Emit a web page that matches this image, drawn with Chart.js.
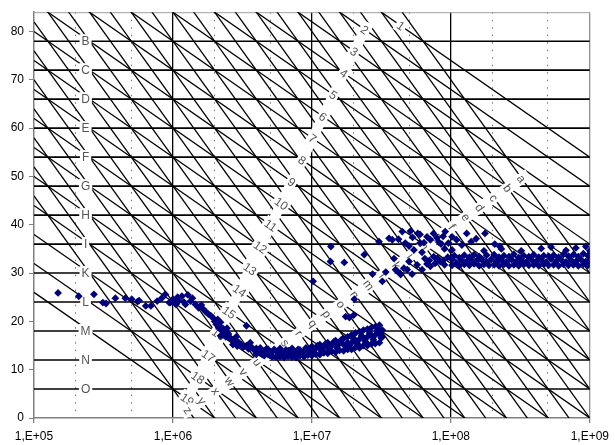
<!DOCTYPE html>
<html>
<head>
<meta charset="utf-8">
<script src="https://cdn.jsdelivr.net/npm/chart.js@4.4.0/dist/chart.umd.min.js"></script>
<style>
  html, body { margin: 0; padding: 0; background: #fff; }
  #wrap { width: 615px; height: 445px; }
</style>
</head>
<body>
<div id="wrap"><canvas id="chart" width="615" height="445"></canvas></div>
<script>
// Nomograma – rectas de referencia y puntos medidos
// -------------------------------------------------------------

// Ejes
const xTicks = [1e5, 2e5, 5e5, 1e6, 2e6, 5e6, 1e7, 2e7, 5e7, 1e8, 2e8, 5e8, 1e9];
const yTicks = [0, 10, 20, 30, 40, 50, 60, 70, 80];

// Líneas horizontales y su letra
const nivelesY = [78, 72, 66, 60, 54, 48, 42, 36, 30, 24, 18, 12, 6];
const nivelesTxt = ['B', 'C', 'D', 'E', 'F', 'G', 'H', 'I', 'K', 'L', 'M', 'N', 'O'];

// Rectas de -20 por década: valor en 1E+06 y su número
const rectas20 = [114, 108, 102, 96, 90, 84, 78, 72, 66, 60, 54, 48, 42, 36, 30, 24, 18, 12, 6];
const rectas20Txt = ['1', '2', '3', '4', '5', '6', '7', '8', '9', '10', '11', '12', '13', '14', '15', '16', '17', '18', '19'];

// Rectas de -40 por década: valor en 1E+06 y su letra
const rectas40 = [150, 144, 138, 132, 126, 120, 114, 108, 102, 96, 90, 84, 78, 72, 66, 60, 54, 48, 42, 36, 30, 24, 18, 12, 6];
const rectas40Txt = ['a', 'b', 'c', 'd', 'e', 'f', 'g', 'h', 'i', 'k', 'l', 'm', 'n', 'o', 'p', 'q', 'r', 's', 't', 'u', 'v', 'w', 'x', 'y', 'z'];

// Puntos medidos [x, y]
const tramoPlano = [
  [1.49e5, 25.9], [2.1e5, 25.2], [2.7e5, 25.6], [3.13e5, 23.9], [3.3e5, 23.7], [3.85e5, 24.8],
  [4.54e5, 24.8], [5.05e5, 24.6], [5.56e5, 24.1], [5.7e5, 24.3], [6.37e5, 23.2], [6.93e5, 23.2],
  [7.7e5, 24.2], [8.3e5, 24.8], [8.8e5, 25.6], [9.4e5, 23.9], [9.6e5, 23.9], [1.0e6, 24.6],
  [1.02e6, 24.1], [1.05e6, 23.5], [1.08e6, 25.0], [1.1e6, 24.2], [1.16e6, 25.2], [1.2e6, 24.0],
  [1.23e6, 23.5], [1.28e6, 25.5], [1.34e6, 24.2], [1.38e6, 24.8], [1.45e6, 23.5]
];
const tramoCaida = [
  [1.53e6, 22.8], [1.6e6, 23.4], [1.66e6, 22.5], [1.72e6, 22.0], [1.8e6, 21.5], [1.87e6, 21.2],
  [1.96e6, 20.6], [2.0e6, 20.0], [2.05e6, 19.4], [2.1e6, 20.4], [2.13e6, 18.7], [2.15e6, 19.2],
  [2.2e6, 19.8], [2.2e6, 17.0], [2.24e6, 18.1], [2.3e6, 17.2], [2.3e6, 18.5], [2.39e6, 17.7],
  [2.4e6, 16.8], [2.45e6, 18.6], [2.51e6, 17.4], [2.58e6, 16.6], [2.64e6, 16.3], [2.75e6, 15.9],
  [2.85e6, 16.8], [2.96e6, 15.7], [3.1e6, 15.2], [3.2e6, 14.6], [3.38e6, 15.0], [3.38e6, 19.1],
  [3.5e6, 14.3], [3.6e6, 15.6], [3.7e6, 14.6], [3.85e6, 14.0], [2.7e6, 15.2], [2.9e6, 14.9]
];
const tramoValle = [
  [3.98e6, 13.2], [3.98e6, 14.4], [4.1e6, 13.8], [4.25e6, 13.4], [4.25e6, 14.5], [4.4e6, 13.1],
  [4.54e6, 12.9], [4.54e6, 13.8], [4.7e6, 14.3], [4.85e6, 13.1], [4.85e6, 14.2], [5.0e6, 12.9],
  [5.18e6, 12.7], [5.18e6, 13.7], [5.35e6, 14.2], [5.53e6, 12.6], [5.53e6, 13.8], [5.7e6, 13.1],
  [5.9e6, 12.7], [5.9e6, 13.6], [5.9e6, 14.4], [6.1e6, 13.2], [6.31e6, 12.5], [6.31e6, 13.6],
  [6.5e6, 14.1], [6.74e6, 12.8], [6.74e6, 13.9], [6.95e6, 13.2], [7.2e6, 12.6], [7.2e6, 13.7],
  [7.2e6, 14.4], [7.45e6, 13.1], [7.69e6, 12.5], [7.69e6, 13.6], [7.95e6, 14.2], [8.2e6, 12.9],
  [8.2e6, 14.1], [8.5e6, 13.3], [8.77e6, 12.7], [8.77e6, 13.8], [9.05e6, 14.5], [9.36e6, 13.0],
  [9.36e6, 14.3], [9.7e6, 13.5], [1.0e7, 12.9], [1.0e7, 14.0], [1.0e7, 14.8], [1.03e7, 13.4],
  [1.07e7, 13.2], [1.07e7, 14.5], [1.1e7, 15.0], [1.14e7, 13.1], [1.14e7, 14.3], [1.14e7, 15.2],
  [1.18e7, 13.8], [1.22e7, 13.5], [1.22e7, 14.8], [1.26e7, 15.4], [1.3e7, 13.4], [1.3e7, 14.6],
  [1.3e7, 15.6], [1.35e7, 14.1], [1.39e7, 13.8], [1.39e7, 15.1], [1.44e7, 15.8], [1.48e7, 13.6],
  [1.48e7, 14.9], [1.48e7, 16.0], [1.53e7, 14.4], [1.58e7, 14.0], [1.58e7, 15.4], [1.63e7, 16.2],
  [1.69e7, 13.9], [1.69e7, 15.2], [1.69e7, 16.5], [1.75e7, 14.8], [1.81e7, 14.2], [1.81e7, 15.6],
  [1.81e7, 16.8], [1.87e7, 15.1], [1.93e7, 14.2], [1.93e7, 15.6], [1.93e7, 17.2], [2.0e7, 16.4],
  [2.06e7, 14.6], [2.06e7, 16.0], [2.06e7, 17.6], [2.13e7, 15.3], [2.2e7, 14.5], [2.2e7, 16.3],
  [2.2e7, 17.9], [2.28e7, 17.0], [2.35e7, 15.0], [2.35e7, 16.5], [2.35e7, 18.2], [2.43e7, 15.8],
  [2.51e7, 15.0], [2.51e7, 16.8], [2.51e7, 18.4], [2.6e7, 17.6], [2.68e7, 15.3], [2.68e7, 17.0],
  [2.68e7, 18.7], [2.77e7, 16.2], [2.86e7, 15.4], [2.86e7, 17.2], [2.86e7, 18.9], [2.96e7, 18.0],
  [3.06e7, 15.6], [3.06e7, 17.4], [3.06e7, 19.2], [3.15e7, 16.6], [3.21e7, 16.8], [3.21e7, 18.2]
];
const tramoDisperso = [
  [1.02e7, 28.3], [1.36e7, 32.4], [1.37e7, 35.5], [1.71e7, 32.2], [1.75e7, 21.0], [1.86e7, 20.8],
  [2.0e7, 21.3], [2.02e7, 24.6], [2.38e7, 33.8], [2.73e7, 29.8], [3.21e7, 28.3], [3.04e7, 36.5],
  [3.4e7, 30.2], [3.59e7, 37.2], [3.79e7, 36.9], [4.0e7, 30.7], [4.11e7, 30.4], [4.35e7, 29.7],
  [4.59e7, 31.0], [4.85e7, 30.7], [5.26e7, 29.8], [5.72e7, 31.7], [6.21e7, 30.7], [6.74e7, 31.9],
  [7.12e7, 31.4], [8.39e7, 32.4], [7.52e7, 33.4], [5.42e7, 34.8], [1.02e8, 34.8],
  [4.47e7, 38.6], [5.12e7, 38.7], [5.78e7, 38.2], [6.74e7, 37.5], [7.12e7, 36.9], [7.94e7, 37.3],
  [9.1e7, 38.6], [1.02e8, 37.5], [1.1e8, 36.9], [1.3e8, 38.2], [1.52e8, 37.1], [1.76e8, 38.2],
  [2.07e8, 36.0], [2.25e8, 35.5], [4.2e7, 37.0], [4.7e7, 36.2], [5.3e7, 37.4], [6.0e7, 38.0],
  [6.4e7, 36.3], [7.5e7, 38.2], [8.2e7, 36.4], [8.8e7, 37.6], [9.6e7, 36.2], [6.0e7, 36.2],
  [8.5e7, 36.0], [1.2e8, 35.8], [5.0e7, 35.6], [3.9e7, 33.0], [6.2e7, 34.3], [9.0e7, 35.0],
  [1.4e8, 36.5], [8.0e7, 33.1], [8.8e7, 32.6], [9.5e7, 33.3], [9.0e7, 31.7], [7.7e7, 32.0],
  [5.0e7, 32.4], [6.5e7, 33.0], [7.0e7, 32.6]
];
const tramoAlto = [
  [1.02e8, 31.6], [1.02e8, 32.8], [1.06e8, 33.6], [1.1e8, 32.1], [1.15e8, 31.5], [1.15e8, 33.2],
  [1.2e8, 32.6], [1.25e8, 31.8], [1.25e8, 33.7], [1.3e8, 32.4], [1.36e8, 31.6], [1.36e8, 33.3],
  [1.41e8, 32.7], [1.47e8, 31.9], [1.47e8, 33.8], [1.53e8, 32.5], [1.6e8, 31.5], [1.6e8, 33.4],
  [1.66e8, 32.8], [1.73e8, 31.8], [1.73e8, 34.6], [1.81e8, 32.3], [1.81e8, 33.7], [1.88e8, 31.6],
  [1.96e8, 32.9], [2.05e8, 31.7], [2.05e8, 33.8], [2.13e8, 32.4], [2.22e8, 31.5], [2.22e8, 33.3],
  [2.31e8, 32.7], [2.31e8, 35.0], [2.41e8, 31.8], [2.41e8, 33.6], [2.51e8, 32.3], [2.62e8, 31.5],
  [2.62e8, 33.4], [2.73e8, 32.8], [2.84e8, 31.7], [2.84e8, 33.9], [2.96e8, 32.4], [3.08e8, 31.5],
  [3.08e8, 33.2], [3.21e8, 32.7], [3.21e8, 34.6], [3.35e8, 31.8], [3.35e8, 33.6], [3.49e8, 32.3],
  [3.64e8, 31.6], [3.64e8, 33.4], [3.79e8, 32.8], [3.95e8, 31.7], [3.95e8, 33.8], [4.11e8, 32.4],
  [4.29e8, 31.5], [4.29e8, 33.3], [4.47e8, 32.7], [4.47e8, 35.1], [4.66e8, 31.8], [4.66e8, 33.6],
  [4.85e8, 32.3], [5.05e8, 31.6], [5.05e8, 33.5], [5.26e8, 32.9], [5.26e8, 35.4], [5.49e8, 31.7],
  [5.49e8, 33.7], [5.72e8, 32.4], [5.96e8, 31.5], [5.96e8, 33.3], [6.21e8, 32.8], [6.47e8, 31.8],
  [6.47e8, 33.9], [6.74e8, 32.3], [6.74e8, 34.7], [7.02e8, 31.6], [7.02e8, 33.5], [7.31e8, 32.7],
  [7.62e8, 31.7], [7.62e8, 33.8], [7.94e8, 32.4], [7.94e8, 35.2], [8.27e8, 31.5], [8.27e8, 33.4],
  [8.62e8, 32.8], [8.98e8, 31.8], [8.98e8, 34.0], [9.36e8, 32.4], [9.36e8, 35.5], [9.7e8, 31.6],
  [9.7e8, 33.6], [1e9, 32.6], [1e9, 34.6]
];

// -------------------------------------------------------------

Chart.defaults.font.family = '"Liberation Sans", Arial, sans-serif';
Chart.defaults.font.size = 12;
Chart.defaults.color = '#000';

const X_LETRAS = 2.35e5;      // columna de las letras mayúsculas
const Y_TOPE = 81.2;          // tope para la etiqueta "1"

function esDecada(v) {
  return Math.abs(Math.log10(v) - Math.round(Math.log10(v))) < 1e-6;
}

function formatoExp(v) {
  const e = Math.round(Math.log10(v));
  return '1,E+' + String(e).padStart(2, '0');
}

function recta(y1, pendiente) {
  // pendiente por década, y1 = valor en 1E+06
  return [{ x: 1e5, y: y1 + pendiente }, { x: 1e9, y: y1 - 3 * pendiente }];
}

const lineas = [];
nivelesY.forEach(v => lineas.push({
  data: [{ x: 1e5, y: v }, { x: 1e9, y: v }],
  showLine: true, pointRadius: 0, borderColor: '#000', borderWidth: 1.6
}));
rectas20.forEach(c => lineas.push({
  data: recta(c, 20), showLine: true, pointRadius: 0, borderColor: '#000', borderWidth: 1.3
}));
rectas40.forEach(c => lineas.push({
  data: recta(c, 40), showLine: true, pointRadius: 0, borderColor: '#000', borderWidth: 1.3
}));

const medidas = [].concat(tramoPlano, tramoCaida, tramoValle, tramoDisperso, tramoAlto)
  .map(p => ({ x: p[0], y: p[1] }));

function caja(ctx, txt, px, py, ang) {
  ctx.save();
  ctx.translate(px, py);
  ctx.rotate(ang);
  const w = ctx.measureText(txt).width + 4;
  ctx.fillStyle = '#fff';
  ctx.fillRect(-w / 2, -7, w, 14);
  ctx.fillStyle = '#555';
  ctx.fillText(txt, 0, 1);
  ctx.restore();
}

function franja(ctx, a, b, ancho) {
  const dx = b.x - a.x, dy = b.y - a.y;
  const len = Math.hypot(dx, dy), ext = 8;
  ctx.save();
  ctx.strokeStyle = '#fff';
  ctx.lineWidth = ancho;
  ctx.beginPath();
  ctx.moveTo(a.x - dx / len * ext, a.y - dy / len * ext);
  ctx.lineTo(b.x + dx / len * ext, b.y + dy / len * ext);
  ctx.stroke();
  ctx.restore();
}

const marco = {
  id: 'marco',
  beforeDatasetsDraw(chart) {
    const { ctx, chartArea: a } = chart;
    ctx.save();
    ctx.strokeStyle = '#a0a0a0';
    ctx.lineWidth = 1;
    ctx.beginPath();
    ctx.moveTo(a.left, a.top + 0.5);
    ctx.lineTo(a.right, a.top + 0.5);
    ctx.stroke();
    ctx.restore();
  }
};

const etiquetas = {
  id: 'etiquetas',
  beforeDatasetDraw(chart, args) {
    if (args.index !== 0) return; // justo antes de los puntos medidos
    const { ctx, scales: { x, y } } = chart;
    const P = (xv, yv) => ({ x: x.getPixelForValue(xv), y: y.getPixelForValue(yv) });
    const angulo = pend => {
      const a = P(1e6, 0), b = P(1e7, -pend);
      return Math.atan2(b.y - a.y, b.x - a.x);
    };
    ctx.save();
    ctx.font = '12px "Liberation Sans", Arial, sans-serif';
    ctx.textAlign = 'center';
    ctx.textBaseline = 'middle';

    // posición de cada número sobre su recta
    const pos20 = rectas20.map(c => {
      let L = (c + 2.4) / 80;
      let yv = c - 20 * L;
      if (yv > Y_TOPE) { yv = Y_TOPE; L = (c - Y_TOPE) / 20; }
      return P(Math.pow(10, 6 + L), yv);
    });
    const pos40 = rectas40.map(c => {
      const L = (c + 0.6) / 60;
      return P(Math.pow(10, 6 + L), c - 40 * L);
    });

    franja(ctx, pos20[1], pos20[pos20.length - 1], 10);
    franja(ctx, pos40[0], pos40[pos40.length - 1], 11);

    nivelesY.forEach((v, i) => {
      const p = P(X_LETRAS, v);
      caja(ctx, nivelesTxt[i], p.x, p.y, 0);
    });
    const a20 = angulo(20), a40 = angulo(40);
    pos20.forEach((p, i) => caja(ctx, rectas20Txt[i], p.x, p.y, a20));
    pos40.forEach((p, i) => caja(ctx, rectas40Txt[i], p.x, p.y, a40));
    ctx.restore();
  }
};

new Chart(document.getElementById('chart'), {
  type: 'scatter',
  data: {
    datasets: [{
      data: medidas,
      pointStyle: 'rectRot',
      pointRadius: 3.9,
      pointBorderWidth: 0,
      backgroundColor: '#00007f',
      borderColor: '#00007f'
    }].concat(lineas)
  },
  options: {
    responsive: false,
    animation: false,
    events: [],
    layout: { padding: { top: 8, right: 20, left: 0, bottom: 0 } },
    plugins: { legend: { display: false }, tooltip: { enabled: false } },
    scales: {
      x: {
        type: 'logarithmic',
        min: 1e5,
        max: 1e9,
        afterBuildTicks: axis => { axis.ticks = xTicks.map(v => ({ value: v })); },
        afterFit: s => { s.height = 27; },
        ticks: {
          autoSkip: false,
          maxRotation: 0,
          padding: 6,
          callback: v => esDecada(v) ? formatoExp(v) : ''
        },
        grid: {
          color: c => {
            const v = c.tick && c.tick.value;
            if (!v || v === 1e5) return 'rgba(0,0,0,0)';
            if (v === 1e9) return '#909090';
            return esDecada(v) ? '#000' : '#707070';
          },
          lineWidth: c => (c.tick && esDecada(c.tick.value)) ? 1.3 : 1,
          tickLength: 5,
          tickColor: c => (c.tick && esDecada(c.tick.value)) ? '#808080' : 'rgba(0,0,0,0)'
        },
        border: {
          color: '#808080',
          width: 1.5,
          dash: c => (c.tick && !esDecada(c.tick.value)) ? [1.5, 6] : []
        }
      },
      y: {
        min: 0,
        max: 84,
        afterBuildTicks: axis => { axis.ticks = yTicks.map(v => ({ value: v })); },
        afterFit: s => { s.width = 34; },
        ticks: { padding: 5 },
        grid: { drawOnChartArea: false, tickLength: 5, tickColor: '#808080' },
        border: { color: '#808080', width: 1.5 }
      }
    }
  },
  plugins: [marco, etiquetas]
});
</script>
</body>
</html>
